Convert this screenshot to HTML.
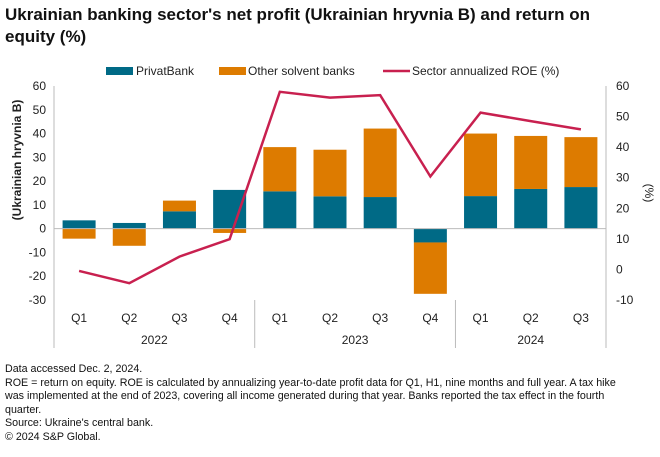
<!DOCTYPE html>
<html><head><meta charset="utf-8"><style>
body{margin:0;background:#fff;font-family:"Liberation Sans",sans-serif;}
#wrap{position:relative;width:660px;height:457px;overflow:hidden}
h1{position:absolute;left:5px;top:4px;margin:0;font-size:17px;line-height:22px;font-weight:bold;color:#111;width:610px}
.foot{position:absolute;left:5px;top:363px;font-size:10.7px;line-height:13.5px;color:#111;width:622px}
svg text{font-family:"Liberation Sans",sans-serif;fill:#222}
</style></head><body><div id="wrap">
<h1>Ukrainian banking sector's net profit (Ukrainian hryvnia B) and return on equity (%)</h1>
<svg id="c" width="660" height="457" style="position:absolute;left:0;top:0"></svg>
<div class="foot">Data accessed Dec. 2, 2024.<br>ROE = return on equity. ROE is calculated by annualizing year-to-date profit data for Q1, H1, nine months and full year. A tax hike was implemented at the end of 2023, covering all income generated during that year. Banks reported the tax effect in the fourth quarter.<br>Source: Ukraine's central bank.<br>© 2024 S&amp;P Global.</div>
</div>
<script>
const quarters=["Q1","Q2","Q3","Q4","Q1","Q2","Q3","Q4","Q1","Q2","Q3"];
const years=["2022","2023","2024"];
const privat=[3.5,2.4,7.3,16.3,15.7,13.6,13.3,-5.8,13.7,16.7,17.5];
const other=[-4.2,-7.2,4.5,-1.8,18.6,19.6,28.8,-21.6,26.3,22.3,21.0];
const roe=[-0.5,-4.5,4.2,9.9,58.1,56.2,57.0,30.4,51.3,48.5,45.8];
const leftTicks=[60,50,40,30,20,10,0,-10,-20,-30];
const rightTicks=[60,50,40,30,20,10,0,-10];
const svg=document.getElementById('c');const NS='http://www.w3.org/2000/svg';
function el(t,a,txt){const e=document.createElementNS(NS,t);for(const k in a)e.setAttribute(k,a[k]);if(txt!=null)e.textContent=txt;svg.appendChild(e);return e;}
const X0=54,X1=606,T=86,B=300;
const yL=v=>T+(60-v)*(B-T)/90;
const yR=v=>T+(60-v)*(B-T)/70;
const bw=(X1-X0)/quarters.length;
const xc=i=>X0+bw*(i+0.5);
let e;
leftTicks.forEach(v=>{e=el('text',{x:46,y:yL(v)+4,'text-anchor':'end','font-size':12},v);
});
rightTicks.forEach(v=>{e=el('text',{x:616,y:yR(v)+4,'font-size':12},v);
});
e=el('line',{x1:X0,y1:T,x2:X0,y2:348,stroke:'#bbb'});
e=el('line',{x1:X1,y1:T,x2:X1,y2:348,stroke:'#bbb'});
[4,8].forEach(i=>{e=el('line',{x1:X0+bw*i,y1:300,x2:X0+bw*i,y2:348,stroke:'#bbb'});
});
quarters.forEach((q,i)=>{
 const p=privat[i],o=other[i];
 let y0=p>=0?yL(p):yL(0), h=Math.abs(yL(p)-yL(0));
 e=el('rect',{x:xc(i)-16.5,y:y0,width:33,height:h,fill:'#006a86'});
 
 const base=(o>=0)===(p>=0)?p:0;
 const a=yL(base),b=yL(base+o);
 e=el('rect',{x:xc(i)-16.5,y:Math.min(a,b),width:33,height:Math.abs(a-b),fill:'#dd7b00'});
 
 e=el('text',{x:xc(i),y:322,'text-anchor':'middle','font-size':12},q);
 
});
e=el('line',{x1:X0,y1:yL(0),x2:X1,y2:yL(0),stroke:'#bbb'});
years.forEach((y,k)=>{const s=k*4,n=k<2?4:3;
 e=el('text',{x:X0+bw*(s+n/2),y:344,'text-anchor':'middle','font-size':12},y);
 });
e=el('polyline',{points:roe.map((v,i)=>xc(i)+','+yR(v)).join(' '),fill:'none',stroke:'#c8204f','stroke-width':2.5});

e=el('text',{transform:'translate(21,160) rotate(-90)','text-anchor':'middle','font-size':12,'font-weight':'bold'},'(Ukrainian hryvnia B)');

e=el('text',{transform:'translate(645,193) rotate(90)','text-anchor':'middle','font-size':12},'(%)');

e=el('rect',{x:106,y:67,width:27,height:8,fill:'#006a86'});
e=el('text',{x:136,y:75,'font-size':12},'PrivatBank');
e=el('rect',{x:219,y:67,width:27,height:8,fill:'#dd7b00'});
e=el('text',{x:248,y:75,'font-size':12},'Other solvent banks');
e=el('line',{x1:383,y1:71,x2:410,y2:71,stroke:'#c8204f','stroke-width':2.5});
e=el('text',{x:412,y:75,'font-size':12},'Sector annualized ROE (%)');
</script></body></html>
